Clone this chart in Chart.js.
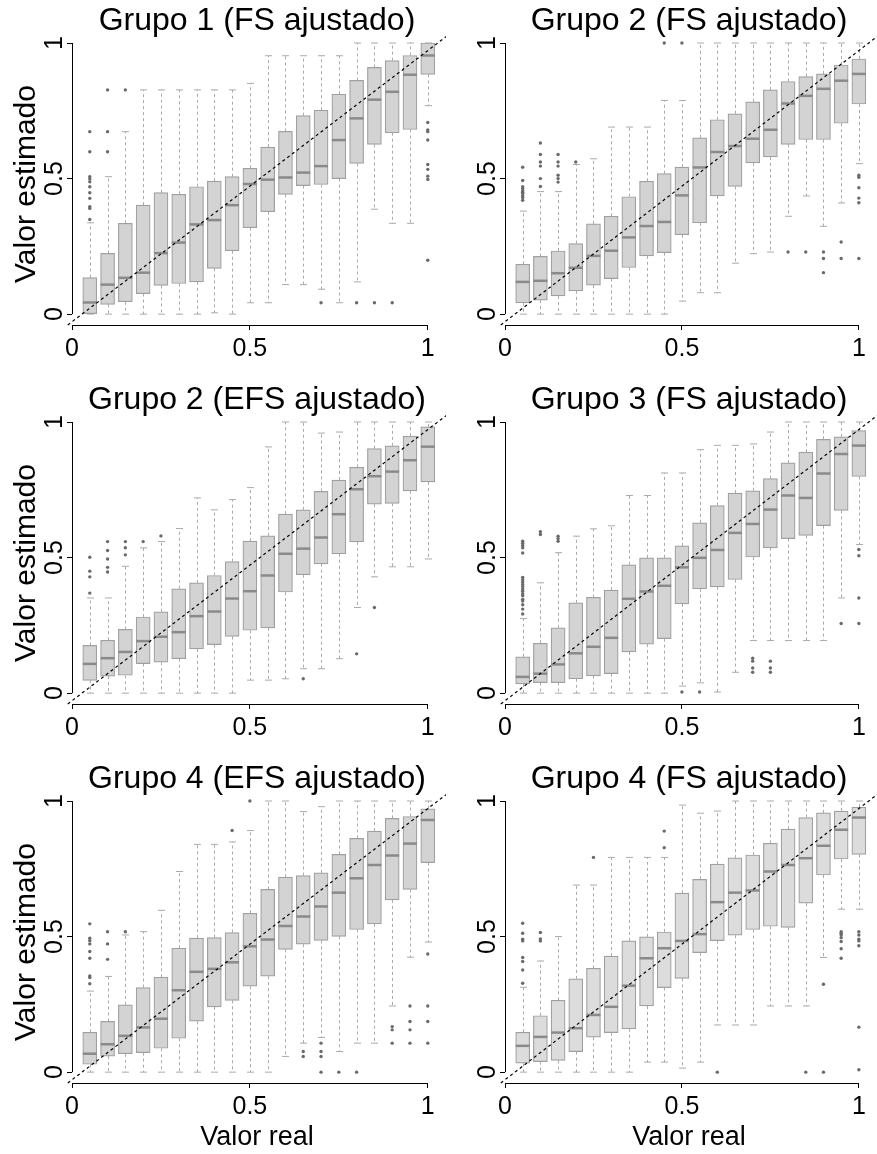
<!DOCTYPE html>
<html>
<head>
<meta charset="utf-8">
<script src="https://cdn.jsdelivr.net/npm/chart.js@4.4.1/dist/chart.umd.min.js"></script>
<style>
  body { margin: 0; background: #fff; width: 877px; height: 1154px; position: relative; overflow: hidden; }
  canvas { position: absolute; }
</style>
</head>
<body>
<canvas id="p0" width="446" height="379" style="left:0px;top:0px"></canvas>
<canvas id="p1" width="437" height="379" style="left:440px;top:0px"></canvas>
<canvas id="p2" width="446" height="379" style="left:0px;top:379px"></canvas>
<canvas id="p3" width="437" height="379" style="left:440px;top:379px"></canvas>
<canvas id="p4" width="446" height="396" style="left:0px;top:758px"></canvas>
<canvas id="p5" width="437" height="396" style="left:440px;top:758px"></canvas>
<script>
// box positions on the "Valor real" axis
const positions = [0.05, 0.10, 0.15, 0.20, 0.25, 0.30, 0.35, 0.40, 0.45, 0.50,
                   0.55, 0.60, 0.65, 0.70, 0.75, 0.80, 0.85, 0.90, 0.95, 1.00];

const panelTitles = ['Grupo 1 (FS ajustado)', 'Grupo 2 (FS ajustado)', 'Grupo 2 (EFS ajustado)',
                     'Grupo 3 (FS ajustado)', 'Grupo 4 (EFS ajustado)', 'Grupo 4 (FS ajustado)'];

const xTicks = [0, 0.5, 1];
const yTicks = [0, 0.5, 1];

// one row per panel, one value per box
const whiskerLow = [
  [0, 0, 0, 0, 0, 0, 0, 0.005, 0, 0.042, 0.042, 0.109, 0.109, 0.092, 0.042, 0.119, 0.387, 0.335, 0.335, 0.769],
  [0, 0, 0, 0, 0, 0, 0, 0, 0, 0.048, 0.079, 0.079, 0.188, 0.223, 0.229, 0.361, 0.436, 0.324, 0.41, 0.555],
  [0, 0, 0, 0, 0, 0, 0, 0, 0, 0.048, 0.048, 0.053, 0.09, 0.09, 0.127, 0.316, 0.429, 0.466, 0.466, 0.495],
  [0, 0, 0, 0, 0, 0, 0, 0, 0, 0.026, 0.038, 0.004, 0.077, 0.194, 0.194, 0.194, 0.194, 0.194, 0.351, 0.548],
  [0, 0, 0, 0, 0, 0, 0, 0, 0, 0, 0, 0.058, 0.107, 0.128, 0.076, 0.107, 0.107, 0.244, 0.424, 0.48],
  [0, 0, 0, 0, 0, 0, 0, 0.037, 0.037, 0.015, 0.037, 0.174, 0.174, 0.174, 0.244, 0.244, 0.244, 0.423, 0.601, 0.601]
];
const quartile1 = [
  [0, 0.036, 0.046, 0.076, 0.106, 0.113, 0.119, 0.169, 0.234, 0.319, 0.378, 0.442, 0.474, 0.478, 0.50, 0.556, 0.626, 0.669, 0.681, 0.884],
  [0.042, 0.052, 0.067, 0.086, 0.107, 0.131, 0.172, 0.215, 0.227, 0.293, 0.337, 0.436, 0.471, 0.558, 0.58, 0.626, 0.644, 0.644, 0.704, 0.775],
  [0.047, 0.063, 0.066, 0.109, 0.114, 0.127, 0.163, 0.179, 0.209, 0.232, 0.241, 0.373, 0.437, 0.477, 0.514, 0.558, 0.697, 0.70, 0.746, 0.779],
  [0.034, 0.039, 0.039, 0.053, 0.064, 0.072, 0.152, 0.181, 0.201, 0.329, 0.385, 0.392, 0.419, 0.502, 0.536, 0.57, 0.582, 0.618, 0.674, 0.799],
  [0.029, 0.059, 0.068, 0.072, 0.088, 0.125, 0.188, 0.241, 0.265, 0.317, 0.354, 0.453, 0.472, 0.486, 0.501, 0.526, 0.547, 0.635, 0.674, 0.773],
  [0.033, 0.039, 0.043, 0.076, 0.129, 0.146, 0.16, 0.244, 0.312, 0.346, 0.441, 0.485, 0.505, 0.526, 0.538, 0.534, 0.623, 0.727, 0.786, 0.803]
];
const medians = [
  [0.043, 0.109, 0.134, 0.153, 0.225, 0.264, 0.331, 0.347, 0.402, 0.48, 0.496, 0.504, 0.522, 0.546, 0.642, 0.722, 0.791, 0.82, 0.883, 0.954],
  [0.119, 0.123, 0.151, 0.171, 0.215, 0.234, 0.283, 0.325, 0.34, 0.438, 0.541, 0.598, 0.62, 0.647, 0.68, 0.777, 0.805, 0.831, 0.861, 0.886],
  [0.108, 0.129, 0.152, 0.192, 0.208, 0.225, 0.284, 0.301, 0.349, 0.376, 0.434, 0.514, 0.533, 0.574, 0.66, 0.752, 0.80, 0.817, 0.859, 0.909],
  [0.06, 0.072, 0.106, 0.147, 0.171, 0.204, 0.348, 0.375, 0.396, 0.464, 0.499, 0.528, 0.591, 0.624, 0.677, 0.729, 0.72, 0.81, 0.882, 0.913],
  [0.068, 0.103, 0.134, 0.165, 0.197, 0.302, 0.37, 0.381, 0.405, 0.464, 0.489, 0.539, 0.574, 0.611, 0.662, 0.715, 0.764, 0.799, 0.843, 0.93],
  [0.097, 0.13, 0.146, 0.162, 0.211, 0.241, 0.319, 0.42, 0.457, 0.484, 0.509, 0.627, 0.662, 0.67, 0.74, 0.764, 0.789, 0.835, 0.894, 0.939]
];
const quartile3 = [
  [0.135, 0.224, 0.335, 0.402, 0.448, 0.442, 0.47, 0.491, 0.507, 0.538, 0.616, 0.674, 0.732, 0.752, 0.811, 0.862, 0.91, 0.935, 0.954, 1.0],
  [0.184, 0.213, 0.233, 0.26, 0.333, 0.361, 0.433, 0.49, 0.518, 0.542, 0.65, 0.717, 0.739, 0.783, 0.827, 0.858, 0.876, 0.886, 0.919, 0.941],
  [0.176, 0.195, 0.235, 0.281, 0.30, 0.385, 0.407, 0.434, 0.485, 0.561, 0.58, 0.66, 0.676, 0.744, 0.786, 0.833, 0.902, 0.912, 0.948, 0.982],
  [0.134, 0.184, 0.241, 0.333, 0.353, 0.38, 0.473, 0.499, 0.499, 0.543, 0.628, 0.692, 0.738, 0.746, 0.791, 0.849, 0.889, 0.936, 0.945, 0.968],
  [0.147, 0.187, 0.248, 0.312, 0.35, 0.457, 0.494, 0.496, 0.515, 0.586, 0.674, 0.719, 0.725, 0.735, 0.803, 0.862, 0.889, 0.936, 0.943, 0.971],
  [0.147, 0.208, 0.265, 0.344, 0.383, 0.428, 0.484, 0.499, 0.517, 0.66, 0.711, 0.767, 0.79, 0.801, 0.844, 0.896, 0.939, 0.956, 0.963, 0.977]
];
const whiskerHigh = [
  [0.337, 0.507, 0.673, 0.827, 0.827, 0.827, 0.827, 0.827, 0.827, 0.851, 0.953, 0.953, 0.953, 0.953, 0.953, 1, 1, 1, 1, 1],
  [0.38, 0.452, 0.452, 0.552, 0.573, 0.69, 0.69, 0.69, 0.788, 0.788, 1, 1, 1, 1, 1, 1, 1, 1, 1, 1],
  [0.351, 0.351, 0.468, 0.536, 0.559, 0.607, 0.72, 0.676, 0.714, 0.758, 0.908, 1, 1, 0.959, 0.963, 1, 1, 1, 1, 1],
  [0.275, 0.407, 0.518, 0.579, 0.606, 0.617, 0.729, 0.729, 0.812, 0.812, 0.898, 0.914, 0.914, 0.919, 0.963, 1, 1, 1, 1, 1],
  [0.299, 0.353, 0.506, 0.518, 0.597, 0.74, 0.84, 0.84, 0.849, 0.891, 1, 1, 0.961, 0.979, 1, 1, 1, 1, 1, 1],
  [0.313, 0.41, 0.5, 0.69, 0.69, 0.792, 0.792, 0.792, 0.792, 0.985, 0.955, 0.963, 1, 1, 1, 1, 1, 1, 1, 1]
];
// outliers per panel: [position, value]
const outliers = [
  [[0.05, 0.673], [0.05, 0.599], [0.05, 0.507], [0.05, 0.498], [0.05, 0.488], [0.05, 0.47], [0.05, 0.448],
   [0.05, 0.427], [0.05, 0.396], [0.05, 0.39], [0.05, 0.349], [0.1, 0.673], [0.1, 0.599], [0.1, 0.827],
   [0.15, 0.827], [0.7, 0.042], [0.8, 0.042], [0.85, 0.042], [0.9, 0.042],
   [1, 0.707], [1, 0.679], [1, 0.673], [1, 0.642], [1, 0.552], [1, 0.534], [1, 0.509], [1, 0.497], [1, 0.199]],
  [[0.05, 0.542], [0.05, 0.493], [0.05, 0.47], [0.05, 0.463], [0.05, 0.455], [0.05, 0.45], [0.05, 0.445],
   [0.05, 0.437], [0.05, 0.43], [0.05, 0.42], [0.1, 0.631], [0.1, 0.589], [0.1, 0.561], [0.1, 0.546],
   [0.1, 0.5], [0.1, 0.471], [0.15, 0.589], [0.15, 0.561], [0.15, 0.546], [0.15, 0.512], [0.15, 0.5],
   [0.15, 0.487], [0.2, 0.561], [0.45, 1], [0.5, 1], [0.8, 0.229], [0.85, 0.229], [0.9, 0.229], [0.9, 0.205],
   [0.9, 0.153], [0.95, 0.266], [0.95, 0.205], [1, 0.512], [1, 0.505], [1, 0.466], [1, 0.428], [1, 0.411], [1, 0.205]],
  [[0.05, 0.501], [0.05, 0.45], [0.05, 0.429], [0.05, 0.369], [0.1, 0.559], [0.1, 0.526], [0.1, 0.495],
   [0.1, 0.464], [0.1, 0.447], [0.15, 0.559], [0.15, 0.536], [0.15, 0.51], [0.2, 0.559], [0.25, 0.58],
   [0.65, 0.053], [0.8, 0.145], [0.85, 0.316]],
  [[0.05, 0.56], [0.05, 0.553], [0.05, 0.545], [0.05, 0.536], [0.05, 0.517], [0.05, 0.427], [0.05, 0.418],
   [0.05, 0.41], [0.05, 0.401], [0.05, 0.393], [0.05, 0.384], [0.05, 0.376], [0.05, 0.367], [0.05, 0.359],
   [0.05, 0.346], [0.05, 0.34], [0.05, 0.326], [0.05, 0.31], [0.05, 0.292], [0.1, 0.595], [0.1, 0.585],
   [0.15, 0.579], [0.15, 0.57], [0.15, 0.56], [0.5, 0.004], [0.55, 0.004], [0.7, 0.129], [0.7, 0.118],
   [0.7, 0.093], [0.7, 0.077], [0.75, 0.118], [0.75, 0.093], [0.75, 0.077], [0.95, 0.257],
   [1, 0.53], [1, 0.507], [1, 0.351], [1, 0.257]],
  [[0.05, 0.547], [0.05, 0.494], [0.05, 0.485], [0.05, 0.473], [0.05, 0.445], [0.05, 0.42], [0.05, 0.355],
   [0.05, 0.349], [0.05, 0.326], [0.1, 0.518], [0.1, 0.473], [0.1, 0.416], [0.15, 0.518], [0.45, 0.891],
   [0.5, 1], [0.65, 0.076], [0.65, 0.058], [0.7, 0.107], [0.7, 0.076], [0.7, 0.058], [0.7, 0], [0.75, 0],
   [0.8, 0], [0.9, 0.168], [0.9, 0.156], [0.9, 0.107], [0.95, 0.244], [0.95, 0.187], [0.95, 0.156],
   [0.95, 0.107], [1, 0.436], [1, 0.244], [1, 0.187], [1, 0.107]],
  [[0.05, 0.549], [0.05, 0.512], [0.05, 0.49], [0.05, 0.484], [0.05, 0.423], [0.05, 0.408], [0.05, 0.377],
   [0.05, 0.328], [0.1, 0.515], [0.1, 0.491], [0.1, 0.484], [0.25, 0.792], [0.45, 0.889], [0.45, 0.828],
   [0.6, 0], [0.85, 0], [0.9, 0.324], [0.9, 0], [0.95, 0.518], [0.95, 0.512], [0.95, 0.506], [0.95, 0.496],
   [0.95, 0.482], [0.95, 0.455], [0.95, 0.42], [1, 0.518], [1, 0.506], [1, 0.49], [1, 0.484], [1, 0.466],
   [1, 0.166], [1, 0.009]]
];
// dashed reference line, end points
const refLineX = [-0.012, 1.068];
const refLineY = [-0.04, 1.04];

const boxFills = ['#d3d3d3', '#d3d3d3', '#d3d3d3', '#d3d3d3', '#d3d3d3', '#dcdcdc'];

Chart.defaults.font.family = "'Liberation Sans', Arial, sans-serif";
Chart.defaults.color = '#000';

// whiskers behind the boxes, medians on top of them, R-style axis lines
const boxExtras = {
  id: 'boxExtras',
  beforeDatasetDraw(chart, args, opts) {
    if (args.index !== 0) return;
    const p = opts.panel;
    const {ctx, scales: {y}} = chart;
    const bars = chart.getDatasetMeta(0).data;
    ctx.save();
    ctx.strokeStyle = '#aaaaaa';
    ctx.lineWidth = 1;
    positions.forEach((pos, i) => {
      const px = Math.round(bars[i].x) + 0.5;
      const cap = bars[i].width / 4;
      const yLo = y.getPixelForValue(whiskerLow[p][i]);
      const yHi = y.getPixelForValue(whiskerHigh[p][i]);
      ctx.setLineDash([3, 3]);
      ctx.beginPath();
      ctx.moveTo(px, y.getPixelForValue(quartile3[p][i]));
      ctx.lineTo(px, yHi);
      ctx.moveTo(px, y.getPixelForValue(quartile1[p][i]));
      ctx.lineTo(px, yLo);
      ctx.stroke();
      ctx.setLineDash([]);
      ctx.beginPath();
      ctx.moveTo(px - cap, yHi);
      ctx.lineTo(px + cap, yHi);
      ctx.moveTo(px - cap, yLo);
      ctx.lineTo(px + cap, yLo);
      ctx.stroke();
    });
    ctx.restore();
  },
  afterDatasetDraw(chart, args, opts) {
    if (args.index !== 0) return;
    const p = opts.panel;
    const {ctx, scales: {y}} = chart;
    const bars = chart.getDatasetMeta(0).data;
    ctx.save();
    ctx.strokeStyle = '#8a8a8a';
    ctx.lineWidth = 2.5;
    positions.forEach((pos, i) => {
      const py = y.getPixelForValue(medians[p][i]);
      ctx.beginPath();
      ctx.moveTo(bars[i].x - bars[i].width / 2, py);
      ctx.lineTo(bars[i].x + bars[i].width / 2, py);
      ctx.stroke();
    });
    ctx.restore();
  },
  afterDraw(chart) {
    const {ctx, chartArea, scales: {x, y}} = chart;
    ctx.save();
    ctx.strokeStyle = '#000';
    ctx.lineWidth = 1;
    ctx.beginPath();
    const by = Math.round(chartArea.bottom) + 0.5;
    ctx.moveTo(x.getPixelForValue(xTicks[0]), by);
    ctx.lineTo(x.getPixelForValue(xTicks[xTicks.length - 1]), by);
    const lx = Math.round(chartArea.left) + 0.5;
    ctx.moveTo(lx, y.getPixelForValue(yTicks[0]));
    ctx.lineTo(lx, y.getPixelForValue(yTicks[yTicks.length - 1]));
    ctx.stroke();
    ctx.restore();
  }
};

panelTitles.forEach((title, p) => {
  const leftCol = p % 2 === 0;
  const bottomRow = p >= 4;
  new Chart(document.getElementById('p' + p), {
    type: 'bar',
    data: {
      datasets: [
        {
          type: 'bar',
          data: positions.map((pos, i) => ({x: pos, y: [quartile1[p][i], quartile3[p][i]]})),
          backgroundColor: boxFills[p],
          borderColor: '#a0a0a0',
          borderWidth: 1.2,
          borderSkipped: false,
          barThickness: 14,
          clip: false,
          order: 3
        },
        {
          type: 'scatter',
          data: outliers[p].map(o => ({x: o[0], y: o[1]})),
          pointRadius: 1.7,
          pointBorderWidth: 0,
          pointBackgroundColor: '#6a6a6a',
          clip: false,
          order: 2
        },
        {
          type: 'line',
          data: refLineX.map((v, i) => ({x: v, y: refLineY[i]})),
          borderColor: '#000',
          borderWidth: 1.2,
          borderDash: [3, 3],
          pointRadius: 0,
          fill: false,
          clip: false,
          order: 1
        }
      ]
    },
    options: {
      responsive: false,
      animation: false,
      layout: {padding: {top: 0, right: leftCol ? 3 : 1, bottom: 0, left: 0}},
      plugins: {
        legend: {display: false},
        tooltip: {enabled: false},
        title: {
          display: true,
          text: title,
          fullSize: false,
          color: '#000',
          font: {size: 32, weight: 'normal'},
          padding: {top: 2, bottom: 2.6}
        },
        boxExtras: {panel: p}
      },
      scales: {
        x: {
          type: 'linear',
          min: 0,
          max: 1.04,
          offset: false,
          afterBuildTicks: s => { s.ticks = xTicks.map(v => ({value: v})); },
          afterFit: s => { s.height = bottomRow ? 71 : 54; },
          grid: {display: true, offset: false, drawOnChartArea: false, drawTicks: true, tickLength: 5, color: '#000', lineWidth: 1},
          border: {display: false},
          ticks: {font: {size: 25}, color: '#000', padding: 4, maxRotation: 0, autoSkip: false, callback: v => String(v)},
          title: {display: bottomRow, text: 'Valor real', color: '#000', font: {size: 27}, padding: {top: 0, bottom: 0}}
        },
        y: {
          type: 'linear',
          min: -0.04,
          max: 1,
          afterBuildTicks: s => { s.ticks = yTicks.map(v => ({value: v})); },
          afterFit: s => { s.width = leftCol ? 72 : 65; },
          grid: {display: true, drawOnChartArea: false, drawTicks: true, tickLength: 5, color: '#000', lineWidth: 1},
          border: {display: false},
          ticks: {font: {size: 25}, color: '#000', padding: -5, minRotation: 90, maxRotation: 90, crossAlign: 'center', autoSkip: false, callback: v => String(v)},
          title: {display: leftCol, text: 'Valor estimado', color: '#000', font: {size: 30}, padding: {top: 9, bottom: 0}}
        }
      }
    },
    plugins: [boxExtras]
  });
});
</script>
</body>
</html>
